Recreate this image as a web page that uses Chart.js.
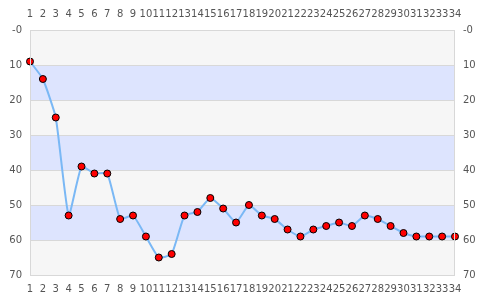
<!DOCTYPE html>
<html>
<head>
<meta charset="utf-8">
<script src="https://cdn.jsdelivr.net/npm/chart.js@4/dist/chart.umd.min.js"></script>
<style>
html,body{margin:0;padding:0;background:#fff;}
#wrap{width:485px;height:300px;position:relative;}
</style>
</head>
<body>
<div id="wrap"><canvas id="c" width="485" height="300"></canvas></div>
<script>
const categories = ["1","2","3","4","5","6","7","8","9","10","11","12","13","14","15","16","17","18","19","20","21","22","23","24","25","26","27","28","29","30","31","32","33","34"];
const values = [9,14,25,53,39,41,41,54,53,59,65,64,53,52,48,51,55,50,53,54,57,59,57,56,55,56,53,54,56,58,59,59,59,59];
const yTickValues = [0,10,20,30,40,50,60,70];
const yTickLabels = ["-0","10","20","30","40","50","60","70"];
const bandColors = ["#f6f6f6","#dde4fe"];

const bandPlugin = {
  id: 'bands',
  beforeDraw(chart) {
    const {ctx, chartArea, scales} = chart;
    const y = scales.y;
    ctx.save();
    for (let i = 0; i < yTickValues.length - 1; i++) {
      const y1 = y.getPixelForValue(yTickValues[i]);
      const y2 = y.getPixelForValue(yTickValues[i+1]);
      ctx.fillStyle = bandColors[i % 2];
      ctx.fillRect(chartArea.left, Math.min(y1,y2), chartArea.right - chartArea.left, Math.abs(y2-y1));
    }
    ctx.restore();
  },
  afterDraw(chart) {
    const {ctx, chartArea} = chart;
    ctx.save();
    ctx.strokeStyle = '#d8d8d8';
    ctx.lineWidth = 1;
    ctx.strokeRect(chartArea.left + 0.5, chartArea.top + 0.5, chartArea.right - chartArea.left - 1, chartArea.bottom - chartArea.top);
    ctx.restore();
  }
};

const tickFont = {family: 'DejaVu Sans', size: 10};
const tickColor = '#555';

function yLabel(v) {
  const i = yTickValues.indexOf(v);
  return i >= 0 ? yTickLabels[i] : '';
}

new Chart(document.getElementById('c'), {
  type: 'line',
  data: {
    labels: categories,
    datasets: [{
      data: values,
      borderColor: '#7ab8f5',
      borderWidth: 2,
      tension: 0.15,
      pointBackgroundColor: '#ff0000',
      pointBorderColor: '#000',
      pointBorderWidth: 1,
      pointRadius: 3.5,
      fill: false,
      clip: false
    }]
  },
  options: {
    responsive: false,
    animation: false,
    layout: {padding: 0},
    plugins: {legend: {display: false}, tooltip: {enabled: false}},
    scales: {
      x: {
        type: 'category', position: 'bottom', offset: false,
        grid: {display: false, drawTicks: false},
        border: {display: false},
        ticks: {autoSkip: false, maxRotation: 0, minRotation: 0, padding: 8, font: tickFont, color: tickColor},
        afterFit(s) { s.height = 25; }
      },
      x2: {
        type: 'category', position: 'top', offset: false, labels: categories,
        grid: {display: false, drawTicks: false},
        border: {display: false},
        ticks: {autoSkip: false, maxRotation: 0, minRotation: 0, padding: 10, font: tickFont, color: tickColor},
        afterFit(s) { s.height = 30; }
      },
      y: {
        position: 'left', reverse: true, min: 0, max: 70,
        grid: {color: '#d8d8d8', drawTicks: false},
        border: {display: false},
        ticks: {stepSize: 10, padding: 8, font: tickFont, color: tickColor, callback: yLabel},
        afterFit(s) { s.width = 30; }
      },
      y2: {
        position: 'right', reverse: true, min: 0, max: 70,
        grid: {display: false, drawTicks: false},
        border: {display: false},
        ticks: {stepSize: 10, padding: 8, font: tickFont, color: tickColor, callback: yLabel},
        afterFit(s) { s.width = 30; }
      }
    }
  },
  plugins: [bandPlugin]
});
</script>
</body>
</html>
